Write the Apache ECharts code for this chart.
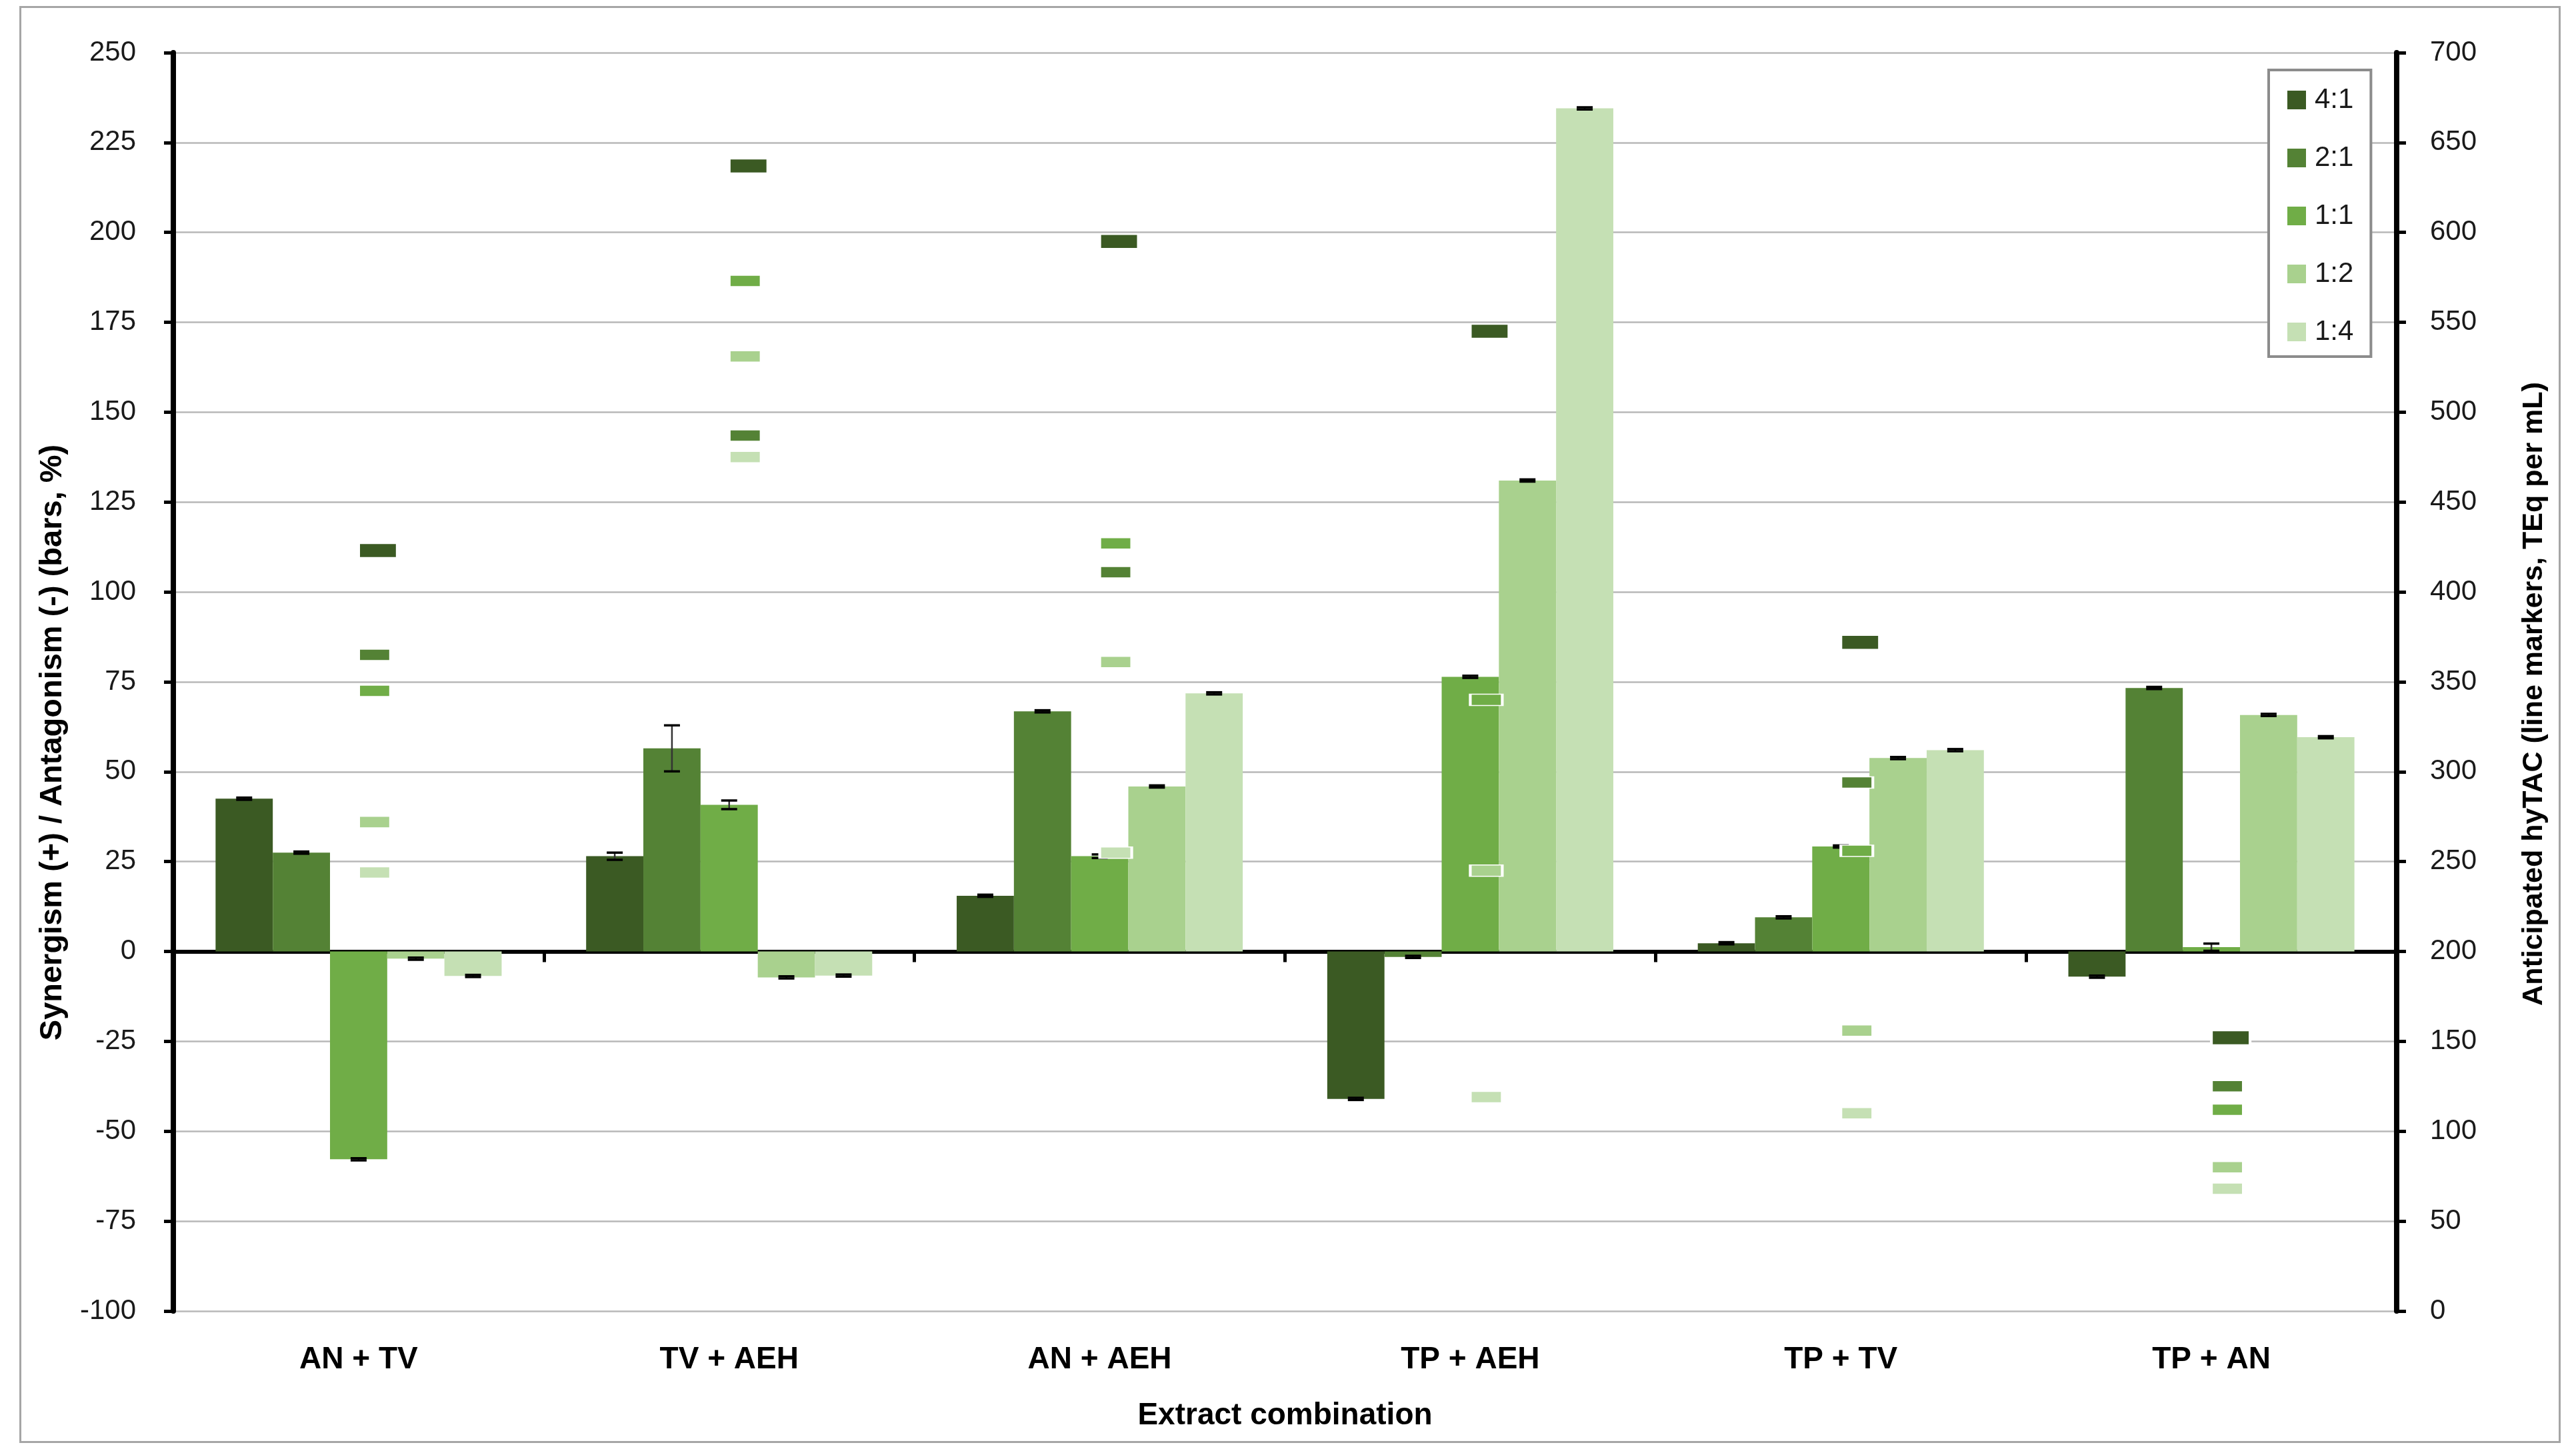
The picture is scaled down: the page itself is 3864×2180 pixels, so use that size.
<!DOCTYPE html>
<html>
<head>
<meta charset="utf-8">
<script src="https://cdn.jsdelivr.net/npm/echarts@6/dist/echarts.min.js"></script>
<style>
html,body{margin:0;padding:0;background:#fff;}
#chart{width:3864px;height:2180px;}
</style>
</head>
<body>
<div id="chart"></div>
<script>
// ---- data ----
const categories = ['AN + TV', 'TV + AEH', 'AN + AEH', 'TP + AEH', 'TP + TV', 'TP + AN'];
const ratios = ['4:1', '2:1', '1:1', '1:2', '1:4'];
// synergy / antagonism bars (%), left axis
const bar41 = [42.5, 26.5, 15.5, -41.0, 2.3, -7.0];
const bar21 = [27.5, 56.5, 66.8, -1.5, 9.5, 73.3];
const bar11 = [-57.8, 40.8, 26.5, 76.4, 29.2, 1.2];
const bar12 = [-2.0, -7.2, 45.9, 131.0, 53.8, 65.8];
const bar14 = [-6.8, -6.7, 71.8, 234.5, 56.0, 59.6];
// error bar half-widths (%)
const err41 = [0.3, 1.0, 0.3, 0.3, 0.3, 0.3];
const err21 = [0.3, 6.4, 0.3, 0.3, 0.3, 0.3];
const err11 = [0.3, 1.2, 0.5, 0.3, 0.3, 1.0];
const err12 = [0.3, 0.3, 0.3, 0.3, 0.3, 0.3];
const err14 = [0.3, 0.3, 0.3, 0.3, 0.3, 0.3];
// anticipated hyTAC (line markers, TEq per mL), right axis
const mark41 = [423, 637, 595, 545, 372, 152];
const mark21 = [365, 487, 411, null, 294, 125];
const mark11 = [345, 573, 427, 340, 256, 112];
const mark12 = [272, 531, 361, 245, 156, 80];
const mark14 = [244, 475, 255, 119, 110, 68];

const colors = ['#3b5a23', '#548235', '#70ad47', '#a9d18e', '#c5e0b4'];
const bars = [bar41, bar21, bar11, bar12, bar14];
const errs = [err41, err21, err11, err12, err14];
const marks = [mark41, mark21, mark11, mark12, mark14];

const GAP = 0.228;
const FONT = '"Liberation Sans", Arial, sans-serif';

const chart = echarts.init(document.getElementById('chart'), null, {renderer: 'canvas'});

const series = [];
ratios.forEach((r, i) => {
  series.push({
    name: r,
    type: 'bar',
    xAxisIndex: 0,
    yAxisIndex: 0,
    data: bars[i],
    barGap: '0%',
    barCategoryGap: (GAP * 100) + '%',
    itemStyle: {color: colors[i]},
    z: 2
  });
});
ratios.forEach((r, i) => {
  series.push({
    name: r + ' err',
    type: 'custom',
    xAxisIndex: 0,
    yAxisIndex: 0,
    encode: {x: 0, y: 1},
    data: categories.map((c, j) => [j, bars[i][j], errs[i][j]]),
    z: 5,
    renderItem: function (params, api) {
      const j = api.value(0), v = api.value(1), e = api.value(2);
      const c = api.coord([j, v]);
      const cw = api.size([1, 0])[0];
      const bw = cw * (1 - GAP) / 5;
      const x = c[0] + (i - 2) * bw;
      const yt = api.coord([j, v + e])[1];
      const yb = api.coord([j, v - e])[1];
      const half = 12;
      const st = {stroke: '#000', lineWidth: 3.5};
      return {
        type: 'group',
        children: [
          {type: 'line', shape: {x1: x, y1: yt, x2: x, y2: yb}, style: {stroke: '#333', lineWidth: 2.5}},
          {type: 'line', shape: {x1: x - half, y1: yt, x2: x + half, y2: yt}, style: st},
          {type: 'line', shape: {x1: x - half, y1: yb, x2: x + half, y2: yb}, style: st}
        ]
      };
    }
  });
});
ratios.forEach((r, i) => {
  const big = i === 0;
  series.push({
    name: r + ' hyTAC',
    type: 'scatter',
    xAxisIndex: 0,
    yAxisIndex: 1,
    data: marks[i],
    symbol: 'rect',
    symbolSize: big ? [58, 21] : [48, 17],
    symbolOffset: big ? [29, 0] : [24, 0],
    itemStyle: {color: colors[i], borderColor: '#ffffff', borderWidth: 2.5, opacity: 1},
    emphasis: {disabled: true},
    z: 10
  });
});

const option = {
  backgroundColor: '#ffffff',
  animation: false,
  textStyle: {fontFamily: FONT},
  grid: {left: 260, right: 269, top: 79, bottom: 213, containLabel: false},
  legend: {
    data: ratios,
    orient: 'vertical',
    left: 3403,
    top: 105,
    padding: [24, 26, 16, 28],
    backgroundColor: '#ffffff',
    borderColor: '#8c8c8c',
    borderWidth: 4,
    itemWidth: 28,
    itemHeight: 28,
    itemGap: 45,
    icon: 'rect',
    textStyle: {fontSize: 42, color: '#1a1a1a', fontFamily: FONT, lineHeight: 42, padding: [0, 0, 0, 8]}
  },
  xAxis: [
    {
      type: 'category',
      data: categories,
      position: 'bottom',
      name: 'Extract combination',
      nameLocation: 'middle',
      nameGap: 134,
      nameTextStyle: {fontSize: 46, fontWeight: 'bold', color: '#000', fontFamily: FONT},
      axisLine: {show: false, onZero: false},
      axisTick: {show: false},
      axisLabel: {fontSize: 46, fontWeight: 'bold', color: '#000', margin: 50, fontFamily: FONT},
      splitLine: {show: false}
    },
    {
      type: 'category',
      data: categories,
      position: 'top',
      axisLine: {show: true, onZero: true, onZeroAxisIndex: 0, lineStyle: {color: '#000', width: 6}},
      axisTick: {show: true, inside: true, length: 16, lineStyle: {color: '#000', width: 5}},
      axisLabel: {show: false},
      splitLine: {show: false}
    }
  ],
  yAxis: [
    {
      type: 'value',
      min: -100,
      max: 250,
      interval: 25,
      position: 'left',
      name: 'Synergism (+) / Antagonism (-) (bars, %)',
      nameLocation: 'middle',
      nameRotate: 90,
      nameGap: 157,
      nameTextStyle: {fontSize: 47, fontWeight: 'bold', color: '#000', fontFamily: FONT, padding: [0, 182, 0, 0]},
      axisLine: {show: true, onZero: false, lineStyle: {color: '#000', width: 8}},
      axisTick: {show: true, length: 14, lineStyle: {color: '#000', width: 5}},
      axisLabel: {fontSize: 42, color: '#1a1a1a', margin: 56, fontFamily: FONT},
      splitLine: {show: true, lineStyle: {color: '#b8b8b8', width: 2.5}}
    },
    {
      type: 'value',
      min: 0,
      max: 700,
      interval: 50,
      position: 'right',
      name: 'Anticipated hyTAC (line markers, TEq per mL)',
      nameLocation: 'middle',
      nameRotate: 90,
      nameGap: 185,
      nameTextStyle: {fontSize: 43, fontWeight: 'bold', color: '#000', fontFamily: FONT, padding: [0, 36, 0, 0]},
      axisLine: {show: true, onZero: false, lineStyle: {color: '#000', width: 8}},
      axisTick: {show: true, length: 14, lineStyle: {color: '#000', width: 5}},
      axisLabel: {fontSize: 42, color: '#1a1a1a', margin: 50, fontFamily: FONT},
      splitLine: {show: false}
    }
  ],
  graphic: [
    {
      type: 'rect',
      left: 28,
      top: 8,
      shape: {width: 3809, height: 2153},
      style: {fill: 'none', stroke: '#a6a6a6', lineWidth: 3},
      silent: true,
      z: -1
    }
  ],
  series: series
};
chart.setOption(option);
</script>
</body>
</html>
